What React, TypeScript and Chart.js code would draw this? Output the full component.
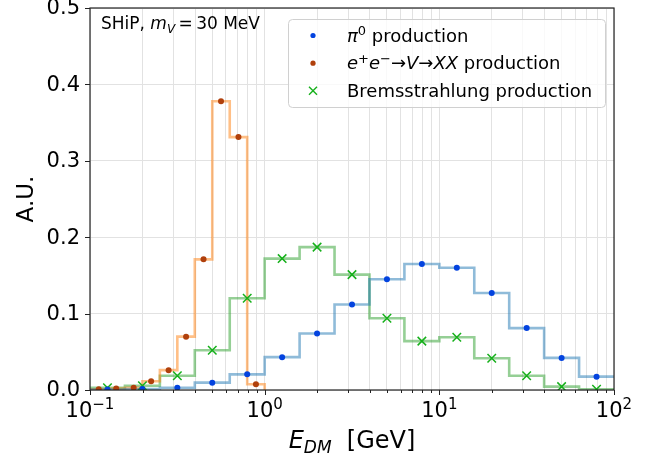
import React, { useEffect, useRef } from "react";
import Chart from "chart.js/auto";

// Bin edges (GeV)
const coarseEdges = [0.1, 0.1585, 0.2512, 0.3981, 0.631, 1, 1.585, 2.512, 3.981, 6.31, 10, 15.85, 25.12, 39.81, 63.1, 100];
const fineEdges = [0.1, 0.1259, 0.1585, 0.1995, 0.2512, 0.3162, 0.3981, 0.5012, 0.631, 0.7943, 1];

// Series values (A.U.)
const pi0Values = [0.0005, 0.0013, 0.003, 0.0096, 0.0205, 0.043, 0.074, 0.112, 0.145, 0.165, 0.160, 0.127, 0.081, 0.042, 0.0175];
const eeValues = [0.001, 0.002, 0.003, 0.0114, 0.026, 0.0698, 0.171, 0.378, 0.331, 0.0075];
const bremValues = [0.003, 0.0056, 0.0187, 0.052, 0.120, 0.172, 0.187, 0.151, 0.094, 0.064, 0.069, 0.0415, 0.0187, 0.0044, 0.001];

// Ticks
const xMajorTicks = [0.1, 1, 10, 100];
const xTickExponents = ["\u22121", "0", "1", "2"];
const yTicks = [0, 0.1, 0.2, 0.3, 0.4, 0.5];
const yTickLabels = ["0.0", "0.1", "0.2", "0.3", "0.4", "0.5"];

const FAM = '"DejaVu Sans", sans-serif';

const PI0_LINE = "rgba(31,119,180,0.5)";
const PI0_MARK = "#0343df";
const EE_LINE = "rgba(255,127,14,0.5)";
const EE_MARK = "#b0400c";
const BREM_LINE = "rgba(44,160,44,0.5)";
const BREM_MARK = "#15b01a";

function stepPoints(edges: number[], values: number[], closeToZero: boolean) {
  const pts = values.map((v, i) => ({ x: edges[i], y: v }));
  pts.push({ x: edges[edges.length - 1], y: values[values.length - 1] });
  if (closeToZero) pts.push({ x: edges[edges.length - 1], y: 0 });
  return pts;
}
function centerPoints(edges: number[], values: number[]) {
  return values.map((v, i) => ({ x: Math.sqrt(edges[i] * edges[i + 1]), y: v }));
}

type Run = { t: string; it?: boolean; sup?: boolean; sub?: boolean };
function drawRuns(ctx: CanvasRenderingContext2D, runs: Run[], x: number, y: number, size: number, align: "left" | "center") {
  const small = Math.round(size * 0.7);
  const fontFor = (r: Run) => `${r.it ? "italic " : ""}${r.sup || r.sub ? small : size}px ${FAM}`;
  const widths = runs.map((r) => {
    ctx.font = fontFor(r);
    return ctx.measureText(r.t).width;
  });
  const total = widths.reduce((a, b) => a + b, 0);
  let cx = align === "center" ? x - total / 2 : x;
  ctx.textAlign = "left";
  ctx.textBaseline = "alphabetic";
  runs.forEach((r, i) => {
    ctx.font = fontFor(r);
    const dy = r.sup ? -size * 0.36 : r.sub ? size * 0.22 : 0;
    ctx.fillText(r.t, cx, y + dy);
    cx += widths[i];
  });
}

const decorPlugin = {
  id: "decor",
  afterDraw(chart: any) {
    const ctx: CanvasRenderingContext2D = chart.ctx;
    const area = chart.chartArea;
    const xs = chart.scales.x;
    const ys = chart.scales.y;
    ctx.save();
    // frame
    ctx.strokeStyle = "#222";
    ctx.lineWidth = 1.2;
    ctx.strokeRect(area.left, area.top, area.right - area.left, area.bottom - area.top);
    // x ticks
    ctx.lineWidth = 1;
    xs.ticks.forEach((t: any) => {
      const px = Math.round(xs.getPixelForValue(t.value)) + 0.5;
      const major = xMajorTicks.some((m) => Math.abs(Math.log10(m) - Math.log10(t.value)) < 1e-6);
      ctx.beginPath();
      ctx.moveTo(px, area.bottom);
      ctx.lineTo(px, area.bottom + (major ? 5 : 3));
      ctx.stroke();
    });
    ctx.fillStyle = "#000";
    xMajorTicks.forEach((v, i) => {
      const px = xs.getPixelForValue(v);
      drawRuns(ctx, [{ t: "10" }, { t: xTickExponents[i], sup: true }], px, 417, 21, "center");
    });
    // y ticks
    yTicks.forEach((v, i) => {
      const py = Math.round(ys.getPixelForValue(v)) + 0.5;
      ctx.beginPath();
      ctx.moveTo(area.left - 5, py);
      ctx.lineTo(area.left, py);
      ctx.stroke();
      ctx.font = `21px ${FAM}`;
      ctx.textAlign = "right";
      ctx.textBaseline = "middle";
      ctx.fillText(yTickLabels[i], area.left - 10, ys.getPixelForValue(v) + 1);
    });
    // axis titles
    drawRuns(ctx, [{ t: "E", it: true }, { t: "DM", it: true, sub: true }, { t: "  [GeV]" }], (area.left + area.right) / 2, 448, 24, "center");
    ctx.save();
    ctx.translate(27, (area.top + area.bottom) / 2);
    ctx.rotate(-Math.PI / 2);
    ctx.font = `23px ${FAM}`;
    ctx.textAlign = "center";
    ctx.textBaseline = "middle";
    ctx.fillText("A.U.", 0, 0);
    ctx.restore();
    // annotation
    drawRuns(ctx, [{ t: "SHiP, " }, { t: "m", it: true }, { t: "V", it: true, sub: true }, { t: "\u2009=\u200930 MeV" }], 101, 29, 17, "left");
    // legend
    const lx = 288, ly = 19, lw = 317, lh = 88;
    ctx.beginPath();
    (ctx as any).roundRect(lx + 0.5, ly + 0.5, lw, lh, 4);
    ctx.fillStyle = "rgba(255,255,255,0.8)";
    ctx.fill();
    ctx.strokeStyle = "#d0d0d0";
    ctx.lineWidth = 1;
    ctx.stroke();
    const rows: { runs: Run[]; y: number; kind: string; color: string }[] = [
      { runs: [{ t: "\u03c0", it: true }, { t: "0", sup: true }, { t: " production" }], y: 35.5, kind: "dot", color: PI0_MARK },
      {
        runs: [
          { t: "e", it: true }, { t: "+", sup: true }, { t: "e", it: true }, { t: "\u2212", sup: true },
          { t: "\u2192" }, { t: "V", it: true }, { t: "\u2192" }, { t: "XX", it: true }, { t: " production" },
        ],
        y: 63.2, kind: "dot", color: EE_MARK,
      },
      { runs: [{ t: "Bremsstrahlung production" }], y: 90.8, kind: "x", color: BREM_MARK },
    ];
    rows.forEach((r) => {
      ctx.fillStyle = r.color;
      ctx.strokeStyle = r.color;
      if (r.kind === "dot") {
        ctx.beginPath();
        ctx.arc(313, r.y, 2.6, 0, Math.PI * 2);
        ctx.fill();
      } else {
        ctx.lineWidth = 1.4;
        ctx.beginPath();
        ctx.moveTo(309, r.y - 4);
        ctx.lineTo(317, r.y + 4);
        ctx.moveTo(309, r.y + 4);
        ctx.lineTo(317, r.y - 4);
        ctx.stroke();
      }
      ctx.fillStyle = "#000";
      drawRuns(ctx, r.runs, 347, r.y + 6, 18, "left");
    });
    ctx.restore();
  },
};

export default function App() {
  const ref = useRef<HTMLCanvasElement | null>(null);
  useEffect(() => {
    if (!ref.current) return;
    const gridValues: number[] = [];
    [0.1, 1, 10].forEach((d) => {
      for (let k = 1; k <= 9; k++) gridValues.push(+(d * k).toPrecision(3));
    });
    gridValues.push(100);
    const chart = new Chart(ref.current, {
      type: "scatter",
      data: {
        datasets: [
          { type: "scatter", data: centerPoints(coarseEdges, pi0Values), backgroundColor: PI0_MARK, borderWidth: 0, pointRadius: 3, pointStyle: "circle" },
          { type: "scatter", data: centerPoints(fineEdges, eeValues), backgroundColor: EE_MARK, borderWidth: 0, pointRadius: 3, pointStyle: "circle" },
          { type: "scatter", data: centerPoints(coarseEdges, bremValues), borderColor: BREM_MARK, backgroundColor: BREM_MARK, borderWidth: 1.5, pointRadius: 6, pointStyle: "crossRot" },
          { type: "line", data: stepPoints(coarseEdges, pi0Values, false), borderColor: PI0_LINE, borderWidth: 2.6, pointRadius: 0, stepped: "before", fill: false },
          { type: "line", data: stepPoints(fineEdges, eeValues, true), borderColor: EE_LINE, borderWidth: 2.6, pointRadius: 0, stepped: "before", fill: false },
          { type: "line", data: stepPoints(coarseEdges, bremValues, false), borderColor: BREM_LINE, borderWidth: 2.6, pointRadius: 0, stepped: "before", fill: false },
        ] as any,
      },
      options: {
        animation: false,
        responsive: false,
        devicePixelRatio: 1,
        layout: { padding: { left: 0, right: 51, top: 8, bottom: 0 } },
        plugins: { legend: { display: false }, tooltip: { enabled: false } },
        events: [],
        scales: {
          x: {
            type: "logarithmic",
            min: 0.1,
            max: 100,
            afterBuildTicks: (s: any) => {
              s.ticks = gridValues.map((v) => ({ value: v }));
            },
            afterFit: (s: any) => {
              s.height = 70;
            },
            ticks: { display: false },
            grid: { color: "#e2e2e2", lineWidth: 1, drawTicks: false },
            border: { display: false },
          },
          y: {
            type: "linear",
            min: 0,
            max: 0.5,
            ticks: { display: false, stepSize: 0.1 },
            afterFit: (s: any) => {
              s.width = 90;
            },
            grid: { color: "#e2e2e2", lineWidth: 1, drawTicks: false },
            border: { display: false },
          },
        },
      } as any,
      plugins: [decorPlugin],
    });
    return () => chart.destroy();
  }, []);
  return (
    <div style={{ position: "fixed", left: 0, top: 0, width: 665, height: 460, background: "#fff" }}>
      <canvas ref={ref} width={665} height={460} style={{ display: "block" }} />
    </div>
  );
}
